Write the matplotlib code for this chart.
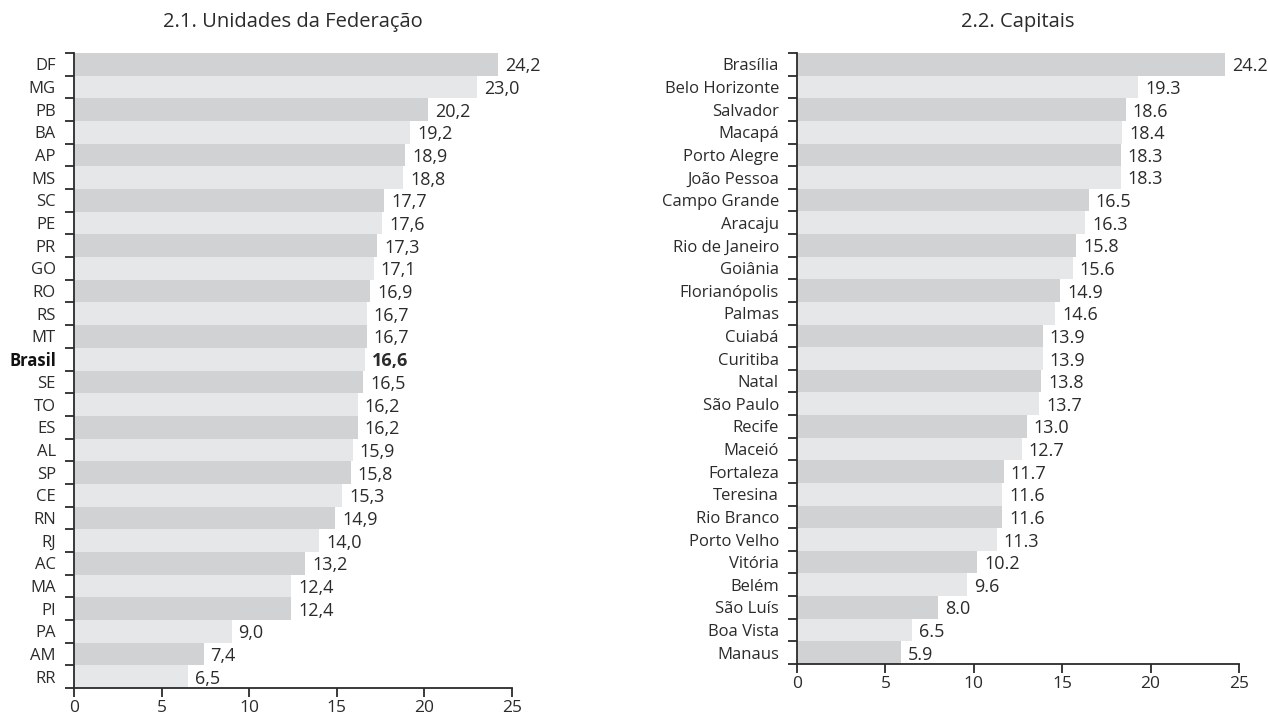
import matplotlib
matplotlib.use("Agg")
import matplotlib.pyplot as plt
import numpy as np

uf_labels = ["DF", "MG", "PB", "BA", "AP", "MS", "SC", "PE", "PR", "GO", "RO", "RS", "MT",
             "Brasil", "SE", "TO", "ES", "AL", "SP", "CE", "RN", "RJ", "AC", "MA", "PI", "PA", "AM", "RR"]
uf_values = [24.2, 23.0, 20.2, 19.2, 18.9, 18.8, 17.7, 17.6, 17.3, 17.1, 16.9, 16.7, 16.7,
             16.6, 16.5, 16.2, 16.2, 15.9, 15.8, 15.3, 14.9, 14.0, 13.2, 12.4, 12.4, 9.0, 7.4, 6.5]

cap_labels = ["Brasília", "Belo Horizonte", "Salvador", "Macapá", "Porto Alegre", "João Pessoa",
              "Campo Grande", "Aracaju", "Rio de Janeiro", "Goiânia", "Florianópolis", "Palmas",
              "Cuiabá", "Curitiba", "Natal", "São Paulo", "Recife", "Maceió", "Fortaleza",
              "Teresina", "Rio Branco", "Porto Velho", "Vitória", "Belém", "São Luís",
              "Boa Vista", "Manaus"]
cap_values = [24.2, 19.3, 18.6, 18.4, 18.3, 18.3, 16.5, 16.3, 15.8, 15.6, 14.9, 14.6, 13.9,
              13.9, 13.8, 13.7, 13.0, 12.7, 11.7, 11.6, 11.6, 11.3, 10.2, 9.6, 8.0, 6.5, 5.9]

x_ticks = [0, 5, 10, 15, 20, 25]

plt.rcParams['font.family'] = ['Open Sans', 'DejaVu Sans']
TXT = '#2b2b2b'
DARK = '#d1d2d4'
LIGHT = '#e6e7e8'
FS = 12
VFS = 13

fig = plt.figure(figsize=(12.68, 7.2), dpi=100)
W, H = 1268, 720

def panel(rect, labels, values, title, decimal, bold_label=None):
    ax = fig.add_axes(rect)
    n = len(labels)
    y = np.arange(n)
    colors = [DARK if i % 2 == 0 else LIGHT for i in range(n)]
    ax.barh(y, values, height=1.0, color=colors, edgecolor='none', zorder=1)
    ax.set_ylim(n - 0.5, -0.5)
    ax.set_xlim(0, 25)
    ax.set_xticks(x_ticks)
    ax.set_xticklabels([str(t) for t in x_ticks], fontsize=12.5, color=TXT)
    ax.set_yticks(y)
    ax.set_yticklabels(labels, fontsize=FS, color=TXT)
    ax.set_yticks(np.arange(n + 1) - 0.5, minor=True)
    ax.tick_params(axis='y', which='major', length=0, pad=13)
    ax.tick_params(axis='y', which='minor', length=6.5, width=1.3, color=TXT, direction='out')
    ax.tick_params(axis='x', which='major', length=6.5, width=1.3, color=TXT, direction='out', pad=2.5)
    for s in ['top', 'right']:
        ax.spines[s].set_visible(False)
    for s in ['left', 'bottom']:
        ax.spines[s].set_color(TXT)
        ax.spines[s].set_linewidth(1.3)
    for i, v in enumerate(values):
        txt = f"{v:.1f}"
        if decimal == ',':
            txt = txt.replace('.', ',')
        weight = 'bold' if (bold_label is not None and labels[i] == bold_label) else 'normal'
        ax.annotate(txt, (v, i), xytext=(5, 0), textcoords='offset points',
                    va='center_baseline', ha='left', fontsize=VFS, color=TXT, fontweight=weight)
    if bold_label is not None:
        for lbl in ax.get_yticklabels():
            if lbl.get_text() == bold_label:
                lbl.set_fontweight('bold')
                lbl.set_color('#111111')
    cx = rect[0] + rect[2] / 2
    fig.text(cx, 1 - 22 / H, title, ha='center', va='center', fontsize=14.5, color=TXT)
    return ax

# left panel: x 74..512, y 53..688
panel([74 / W, 1 - 688 / H, 438 / W, 635 / H], uf_labels, uf_values,
      "2.1. Unidades da Federação", ',', bold_label="Brasil")
# right panel: x 797..1239, y 53..664
panel([797 / W, 1 - 664 / H, 442 / W, 611 / H], cap_labels, cap_values,
      "2.2. Capitais", '.')

fig.savefig("out.png", dpi=100)
